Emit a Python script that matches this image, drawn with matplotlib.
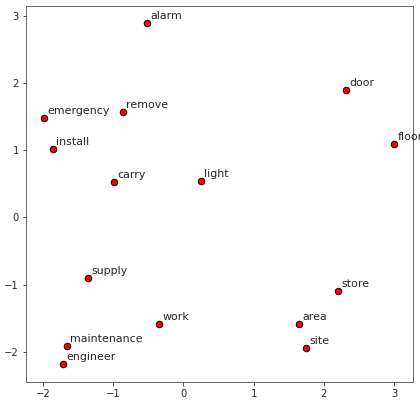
import matplotlib
matplotlib.use("Agg")
import matplotlib.pyplot as plt

words = ["alarm", "emergency", "remove", "install", "carry", "light", "door", "floor",
         "supply", "work", "maintenance", "engineer", "store", "area", "site"]
xs = [-0.52, -1.98, -0.86, -1.86, -0.99, 0.25, 2.31, 3.00,
      -1.36, -0.35, -1.66, -1.72, 2.20, 1.64, 1.74]
ys = [2.89, 1.48, 1.57, 1.02, 0.53, 0.55, 1.90, 1.10,
      -0.90, -1.58, -1.91, -2.18, -1.10, -1.58, -1.94]

fig = plt.figure(figsize=(420/72, 403/72), dpi=72)
ax = fig.add_axes([26/420, 21/403, (413-26)/420, (382-6)/403])
ax.scatter(xs, ys, c="r", edgecolors="k", s=42, linewidths=1.0, zorder=3)
for w, x, y in zip(words, xs, ys):
    ax.text(x + 0.05, y + 0.06, w, fontsize=11, color="#262626", clip_on=False)
ax.set_xlim(-2.24, 3.27)
ax.set_ylim(-2.45, 3.15)
ax.set_xticks([-2, -1, 0, 1, 2, 3])
ax.set_yticks([-2, -1, 0, 1, 2, 3])
ax.tick_params(labelsize=10, colors="#262626")
for s in ax.spines.values():
    s.set_color("#444444")
fig.savefig("out.png", dpi=72)
